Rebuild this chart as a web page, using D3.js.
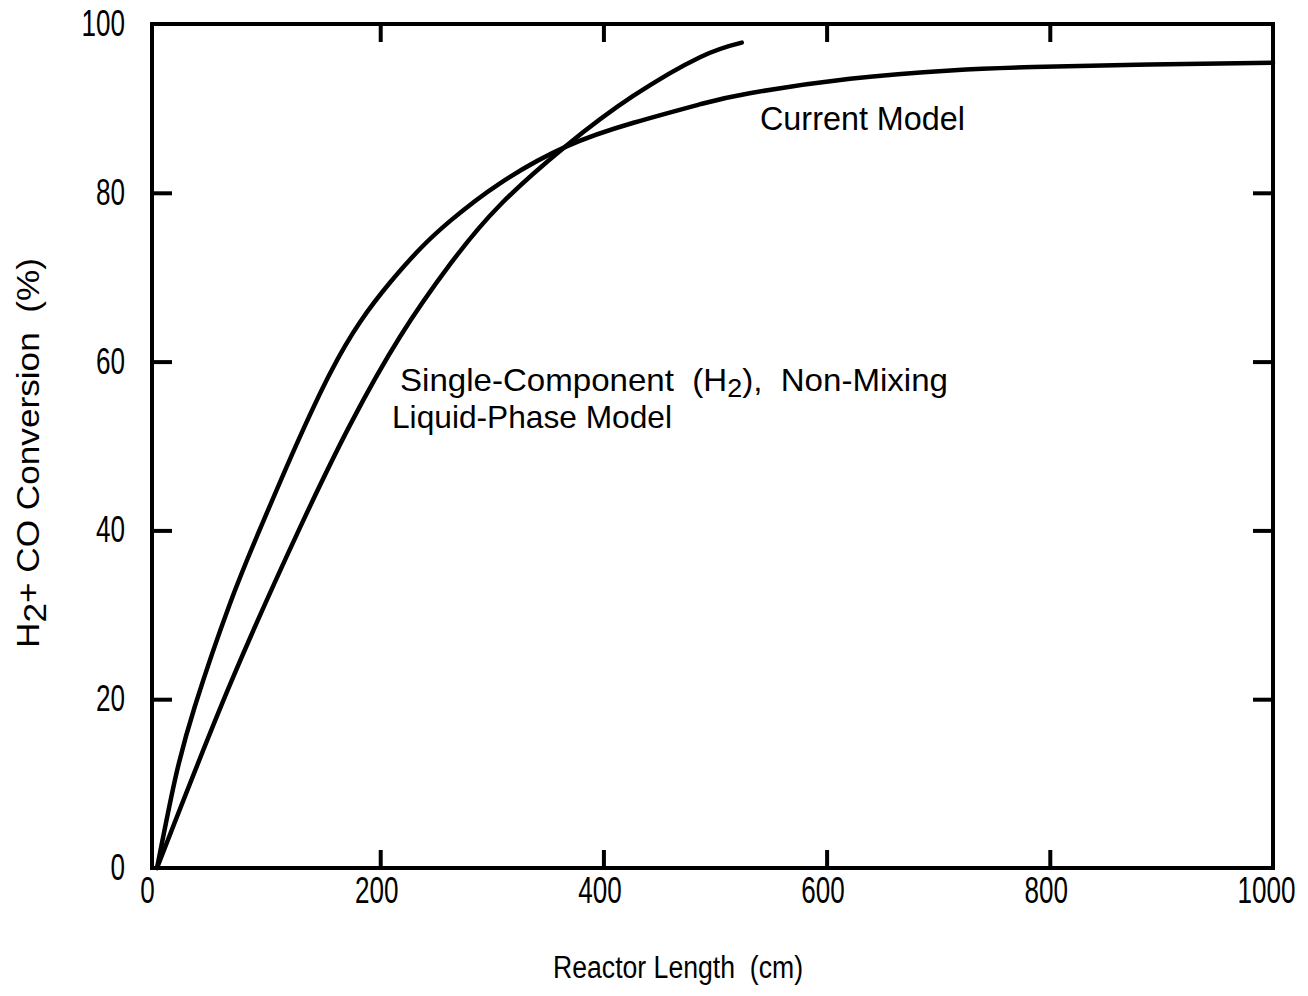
<!DOCTYPE html>
<html>
<head>
<meta charset="utf-8">
<script src="https://cdn.jsdelivr.net/npm/d3@7"></script>
<style>
  html, body { margin: 0; padding: 0; background: #fff; }
  svg { display: block; }
  text { font-family: "Liberation Sans", Arial, sans-serif; fill: #000; white-space: pre; }
</style>
</head>
<body>
<svg id="chart" width="1308" height="996"></svg>
<script>
// Axis ticks
const xTicks = [0, 200, 400, 600, 800, 1000];
const yTicks = [0, 20, 40, 60, 80, 100];

// Current Model: reactor length (cm) vs H2 + CO conversion (%)
const currentLength = [0, 16, 34, 65, 94, 124, 155, 182, 209, 236, 263, 307, 367, 427, 487, 531, 621, 711, 785, 890, 1000];
const currentConv   = [0, 10.4, 19.2, 31.2, 40.7, 49.9, 58.6, 64.7, 69.4, 73.4, 76.7, 81.1, 85.5, 88.3, 90.5, 91.8, 93.5, 94.5, 94.9, 95.2, 95.4];

// Single-component (H2), non-mixing liquid-phase model
const singleLength = [0, 65, 128, 173, 218, 263, 307, 367, 427, 487, 524];
const singleConv   = [0, 21.6, 40.3, 52.5, 63.0, 71.6, 78.5, 85.6, 91.5, 96.1, 97.8];

const svg = d3.select("#chart");
const plotLeft = 152, plotRight = 1273, plotTop = 24, plotBottom = 868;

// the frame starts a few cm left of zero
const x = d3.scaleLinear().domain([-4.5, 1000]).range([plotLeft, plotRight]);
const y = d3.scaleLinear().domain([0, 100]).range([plotBottom, plotTop]);

const innerY = yTicks.slice(1, -1);
const innerX = xTicks.slice(1, -1);

// bottom axis: inward ticks + labels
const gx = svg.append("g").attr("transform", `translate(0,${plotBottom})`)
  .call(d3.axisBottom(x).tickValues(xTicks).tickSizeInner(-18).tickSizeOuter(0).tickPadding(9).tickFormat(d3.format("d")));
// left axis: inward ticks + labels
const gy = svg.append("g").attr("transform", `translate(${plotLeft},0)`)
  .call(d3.axisLeft(y).tickValues(yTicks).tickSizeInner(-20).tickSizeOuter(0).tickPadding(27).tickFormat(d3.format("d")));
// top and right: ticks only
const gt = svg.append("g").attr("transform", `translate(0,${plotTop})`)
  .call(d3.axisTop(x).tickValues(innerX).tickSizeInner(-18).tickSizeOuter(0).tickFormat(""));
const gr = svg.append("g").attr("transform", `translate(${plotRight},0)`)
  .call(d3.axisRight(y).tickValues(innerY).tickSizeInner(-20).tickSizeOuter(0).tickFormat(""));

[gx, gy, gt, gr].forEach(g => {
  g.attr("font-family", null).attr("font-size", null);
  g.select(".domain").remove();
  g.selectAll(".tick line").attr("stroke", "#000").attr("stroke-width", 4);
});
// tall, narrow tick numerals
[gx, gy].forEach(g => {
  g.selectAll(".tick text")
    .attr("font-size", 36).attr("fill", "#000")
    .attr("textLength", d => String(d).length * 14.5)
    .attr("lengthAdjust", "spacingAndGlyphs");
});
gx.selectAll(".tick text").attr("dx", d => d === 0 ? -10 : d === 1000 ? -7 : -4);
// corner ticks coincide with the frame
gx.selectAll(".tick").filter(d => d === 0 || d === 1000).select("line").remove();
gy.selectAll(".tick").filter(d => d === 0 || d === 100).select("line").remove();

// plot frame
svg.append("rect")
  .attr("x", plotLeft).attr("y", plotTop)
  .attr("width", plotRight - plotLeft).attr("height", plotBottom - plotTop)
  .attr("fill", "none").attr("stroke", "#000").attr("stroke-width", 4);

// curves
const line = d3.line().x(d => x(d[0])).y(d => y(d[1])).curve(d3.curveNatural);
const currentData = d3.zip(currentLength, currentConv);
const singleData = d3.zip(singleLength, singleConv);

svg.append("path").datum(currentData).attr("d", line)
  .attr("fill", "none").attr("stroke", "#000").attr("stroke-width", 4.5).attr("stroke-linecap", "round");
svg.append("path").datum(singleData).attr("d", line)
  .attr("fill", "none").attr("stroke", "#000").attr("stroke-width", 4.5).attr("stroke-linecap", "round");

// curve annotations
svg.append("text").attr("x", 760).attr("y", 130).attr("font-size", 33)
  .attr("textLength", 205).attr("lengthAdjust", "spacingAndGlyphs").text("Current Model");

const t1 = svg.append("text").attr("x", 400).attr("y", 391).attr("font-size", 32)
  .attr("textLength", 548).attr("lengthAdjust", "spacingAndGlyphs");
t1.append("tspan").text("Single-Component  (H");
t1.append("tspan").attr("font-size", 26).attr("dy", 6).text("2");
t1.append("tspan").attr("dy", -6).text("),  Non-Mixing");

svg.append("text").attr("x", 392).attr("y", 428).attr("font-size", 32)
  .attr("textLength", 280).attr("lengthAdjust", "spacingAndGlyphs").text("Liquid-Phase Model");

// axis titles
svg.append("text").attr("x", 553).attr("y", 978).attr("font-size", 31)
  .attr("textLength", 250).attr("lengthAdjust", "spacingAndGlyphs")
  .text("Reactor Length  (cm)");

const yl = svg.append("text").attr("transform", "translate(39,648) rotate(-90)")
  .attr("font-size", 31)
  .attr("textLength", 390).attr("lengthAdjust", "spacingAndGlyphs");
yl.append("tspan").text("H");
yl.append("tspan").attr("dy", 7).text("2");
yl.append("tspan").attr("dy", -7).text("+ CO Conversion  (%)");
</script>
</body>
</html>
